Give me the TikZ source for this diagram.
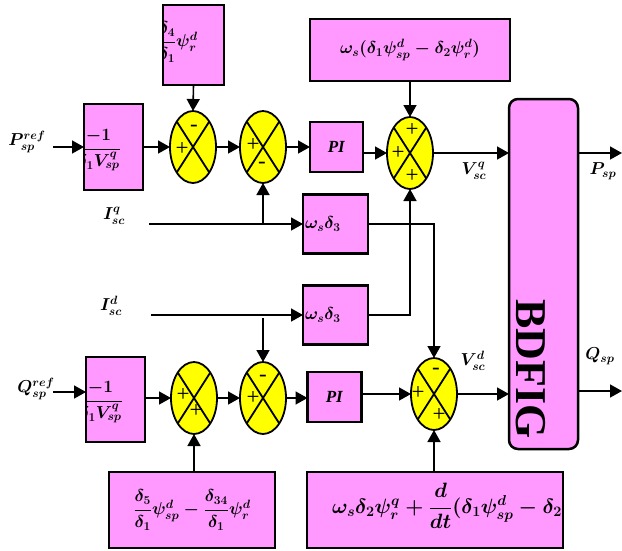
\documentclass[tikz,border=0pt]{standalone}
\usepackage{amsmath}
\usepackage{fontspec}
\setmainfont{Liberation Serif}
\usetikzlibrary{shapes.geometric,arrows.meta}
\definecolor{boxpink}{RGB}{255,153,255}
\definecolor{sumyellow}{RGB}{255,255,0}
\begin{document}
\begin{tikzpicture}[x=1pt,y=-1pt,
  every node/.style={font=\fontsize{17}{20}\selectfont\boldmath},
  pbox/.style={rectangle, fill=boxpink, draw=black, line width=2.5pt, inner sep=0pt, outer sep=0pt},
  pfill/.style={rectangle, fill=boxpink, inner sep=0pt, outer sep=0pt},
  frame/.style={draw=black, line width=2.5pt},
  sumell/.style={ellipse, fill=sumyellow, draw=black, line width=1.8pt, minimum width=46pt, minimum height=72pt, inner sep=0pt, outer sep=0pt},
  crossline/.style={line width=1.8pt},
  sgn/.style={font=\fontsize{23}{25}\selectfont, inner sep=0pt},
  lab/.style={inner sep=0pt, font=\fontsize{18}{20}\selectfont\boldmath},
  arr/.style={line width=1.6pt, -{Triangle[length=12pt,width=13pt]}}
]
\useasboundingbox (0,0) rectangle (622,550);

% ---------- boxes with clipped content ----------
\node[pfill, minimum width=59pt, minimum height=86pt] (b1) at (113.5,147) {};
\begin{scope}\clip (b1.south west) rectangle (b1.north east);
\node[anchor=east, inner sep=0pt] (b1t) at (121,150) {$\dfrac{-1}{\delta_1 V^{q}_{sp}}$};
\end{scope}
\draw[frame] (b1.south west) rectangle (b1.north east);

\node[pfill, minimum width=61pt, minimum height=80pt] (tb) at (193.5,45) {};
\begin{scope}\clip (tb.south west) rectangle (tb.north east);
\node[anchor=east, inner sep=0pt] (tbt) at (198,42) {$\dfrac{\delta_4}{\delta_1}\psi^{d}_{r}$};
\end{scope}
\draw[frame] (tb.south west) rectangle (tb.north east);

\node[pfill, minimum width=59pt, minimum height=85pt] (b3) at (115.5,399.5) {};
\begin{scope}\clip (b3.south west) rectangle (b3.north east);
\node[anchor=east, inner sep=0pt] (b3t) at (123,402) {$\dfrac{-1}{\delta_1 V^{q}_{sp}}$};
\end{scope}
\draw[frame] (b3.south west) rectangle (b3.north east);

\node[pfill, minimum width=256pt, minimum height=76pt] (br) at (435,510) {};
\begin{scope}\clip (br.south west) rectangle (br.north east);
\node[anchor=west, inner sep=0pt, font=\fontsize{19.3}{22}\selectfont\boldmath] (brt) at (332,506) {$\omega_s\delta_2\psi^{q}_{r}+\dfrac{d}{dt}(\delta_1\psi^{d}_{sp}-\delta_2\psi^{d}_{r})$};
\end{scope}
\draw[frame] (br.south west) rectangle (br.north east);

% ---------- plain boxes ----------
\node[pbox, minimum width=200pt, minimum height=62pt] (tr) at (410,50) {$\omega_s(\delta_1\psi^{d}_{sp}-\delta_2\psi^{d}_{r})$};
\node[pbox, minimum width=53pt, minimum height=50pt] (pi1) at (336.5,147) {\textbf{\textit{PI}}};
\node[pbox, minimum width=65pt, minimum height=59pt, text width=61pt, align=left] (w1) at (335.5,224) {$\omega_s\delta_3$};
\node[pbox, minimum width=65pt, minimum height=59pt, text width=61pt, align=left] (w2) at (335.5,315) {$\omega_s\delta_3$};
\node[pbox, minimum width=54pt, minimum height=50pt] (pi2) at (334.5,397) {\textbf{\textit{PI}}};
\node[pbox, minimum width=166pt, minimum height=76pt] (bl) at (192,510) {$\dfrac{\delta_5}{\delta_1}\psi^{d}_{sp}-\dfrac{\delta_{34}}{\delta_1}\psi^{d}_{r}$};
\node[pbox, rounded corners=9pt, minimum width=69pt, minimum height=350pt] (bd) at (543.5,274) {};
\node[rotate=-90, font=\fontsize{44}{46}\selectfont\bfseries, inner sep=0pt] (bdt) at (531,369) {BDFIG};

% ---------- summing junctions ----------
\foreach \n/\x/\y in {s1/193/147, s2/263/147, s3/410/153, s5/194/398, s6/263/398, s4/434/394}{
  \node[sumell] (\n) at (\x,\y) {};
  \draw[crossline] (\n.north west) -- (\n.south east);
  \draw[crossline] (\n.north east) -- (\n.south west);
}
\node[sgn] (s1a) at (194,128) {-};
\node[sgn] (s1b) at (182,149) {+};
\node[sgn] (s2a) at (253,145) {+};
\node[sgn] (s2b) at (262,165) {-};
\node[sgn] (s3a) at (412,130) {+};
\node[sgn] (s3b) at (398,153) {+};
\node[sgn] (s3c) at (412,176) {+};
\node[sgn] (s5a) at (183,395) {+};
\node[sgn] (s5b) at (196,411) {+};
\node[sgn] (s6a) at (263,378) {-};
\node[sgn] (s6b) at (253,398) {+};
\node[sgn] (s4a) at (436,371) {-};
\node[sgn] (s4b) at (418,393) {+};
\node[sgn] (s4c) at (439,415) {+};

% ---------- labels ----------
\node[lab] (lPref) at (27,142) {$P^{ref}_{sp}$};
\node[lab] (lQref) at (36,389) {$Q^{ref}_{sp}$};
\node[lab] (lIq) at (114,216) {$I^{q}_{sc}$};
\node[lab] (lId) at (111,306) {$I^{d}_{sc}$};
\node[lab] (lVq) at (474,171) {$V^{q}_{sc}$};
\node[lab] (lVd) at (473,361) {$V^{d}_{sc}$};
\node[lab] (lPsp) at (603,171) {$P_{sp}$};
\node[lab] (lQsp) at (600,356) {$Q_{sp}$};

% ---------- coordinates ----------
\coordinate (cPin) at (53,147);
\coordinate (cQin) at (53,392);
\coordinate (cIq) at (149,224);
\coordinate (cId) at (151,315);
\coordinate (jq) at (263,224);
\coordinate (jd) at (263,318);
\coordinate (cPout) at (622,153);
\coordinate (cQout) at (622,391);

% ---------- connectors ----------
\draw[arr] (cPin) -- (b1.west);
\draw[arr] (b1.east) -- (s1.west);
\draw[arr] (s1.east) -- (s2.west);
\draw[arr] (s2.east) -- (pi1.west);
\draw[arr] (pi1.east |- s3.west) -- (s3.west);
\draw[arr] (tb.south) -- (s1.north);
\draw[arr] (tr.south) -- (s3.north);
\draw[arr] (s3.east) -- (bd.west |- s3.east);
\draw[arr] (bd.east |- cPout) -- (cPout);

\draw[arr] (cIq) -- (w1.west);
\draw[arr] (jq) -- (s2.south);
\draw[arr] (w1.east) -| (s4.north);
\draw[arr] (cId) -- (w2.west);
\draw[arr] (jd) -- (s6.north);
\draw[arr] (w2.east) -| (s3.south);

\draw[arr] (cQin) -- (cQin -| b3.west);
\draw[arr] (b3.east |- s5.west) -- (s5.west);
\draw[arr] (s5.east) -- (s6.west);
\draw[arr] (s6.east) -- (pi2.west |- s6.east);
\draw[arr] (pi2.east |- s4.west) -- (s4.west);
\draw[arr] (s5.south |- bl.north) -- (s5.south);
\draw[arr] (s4.south |- br.north) -- (s4.south);
\draw[arr] (s4.east) -- (bd.west |- s4.east);
\draw[arr] (bd.east |- cQout) -- (cQout);
\end{tikzpicture}
\end{document}
